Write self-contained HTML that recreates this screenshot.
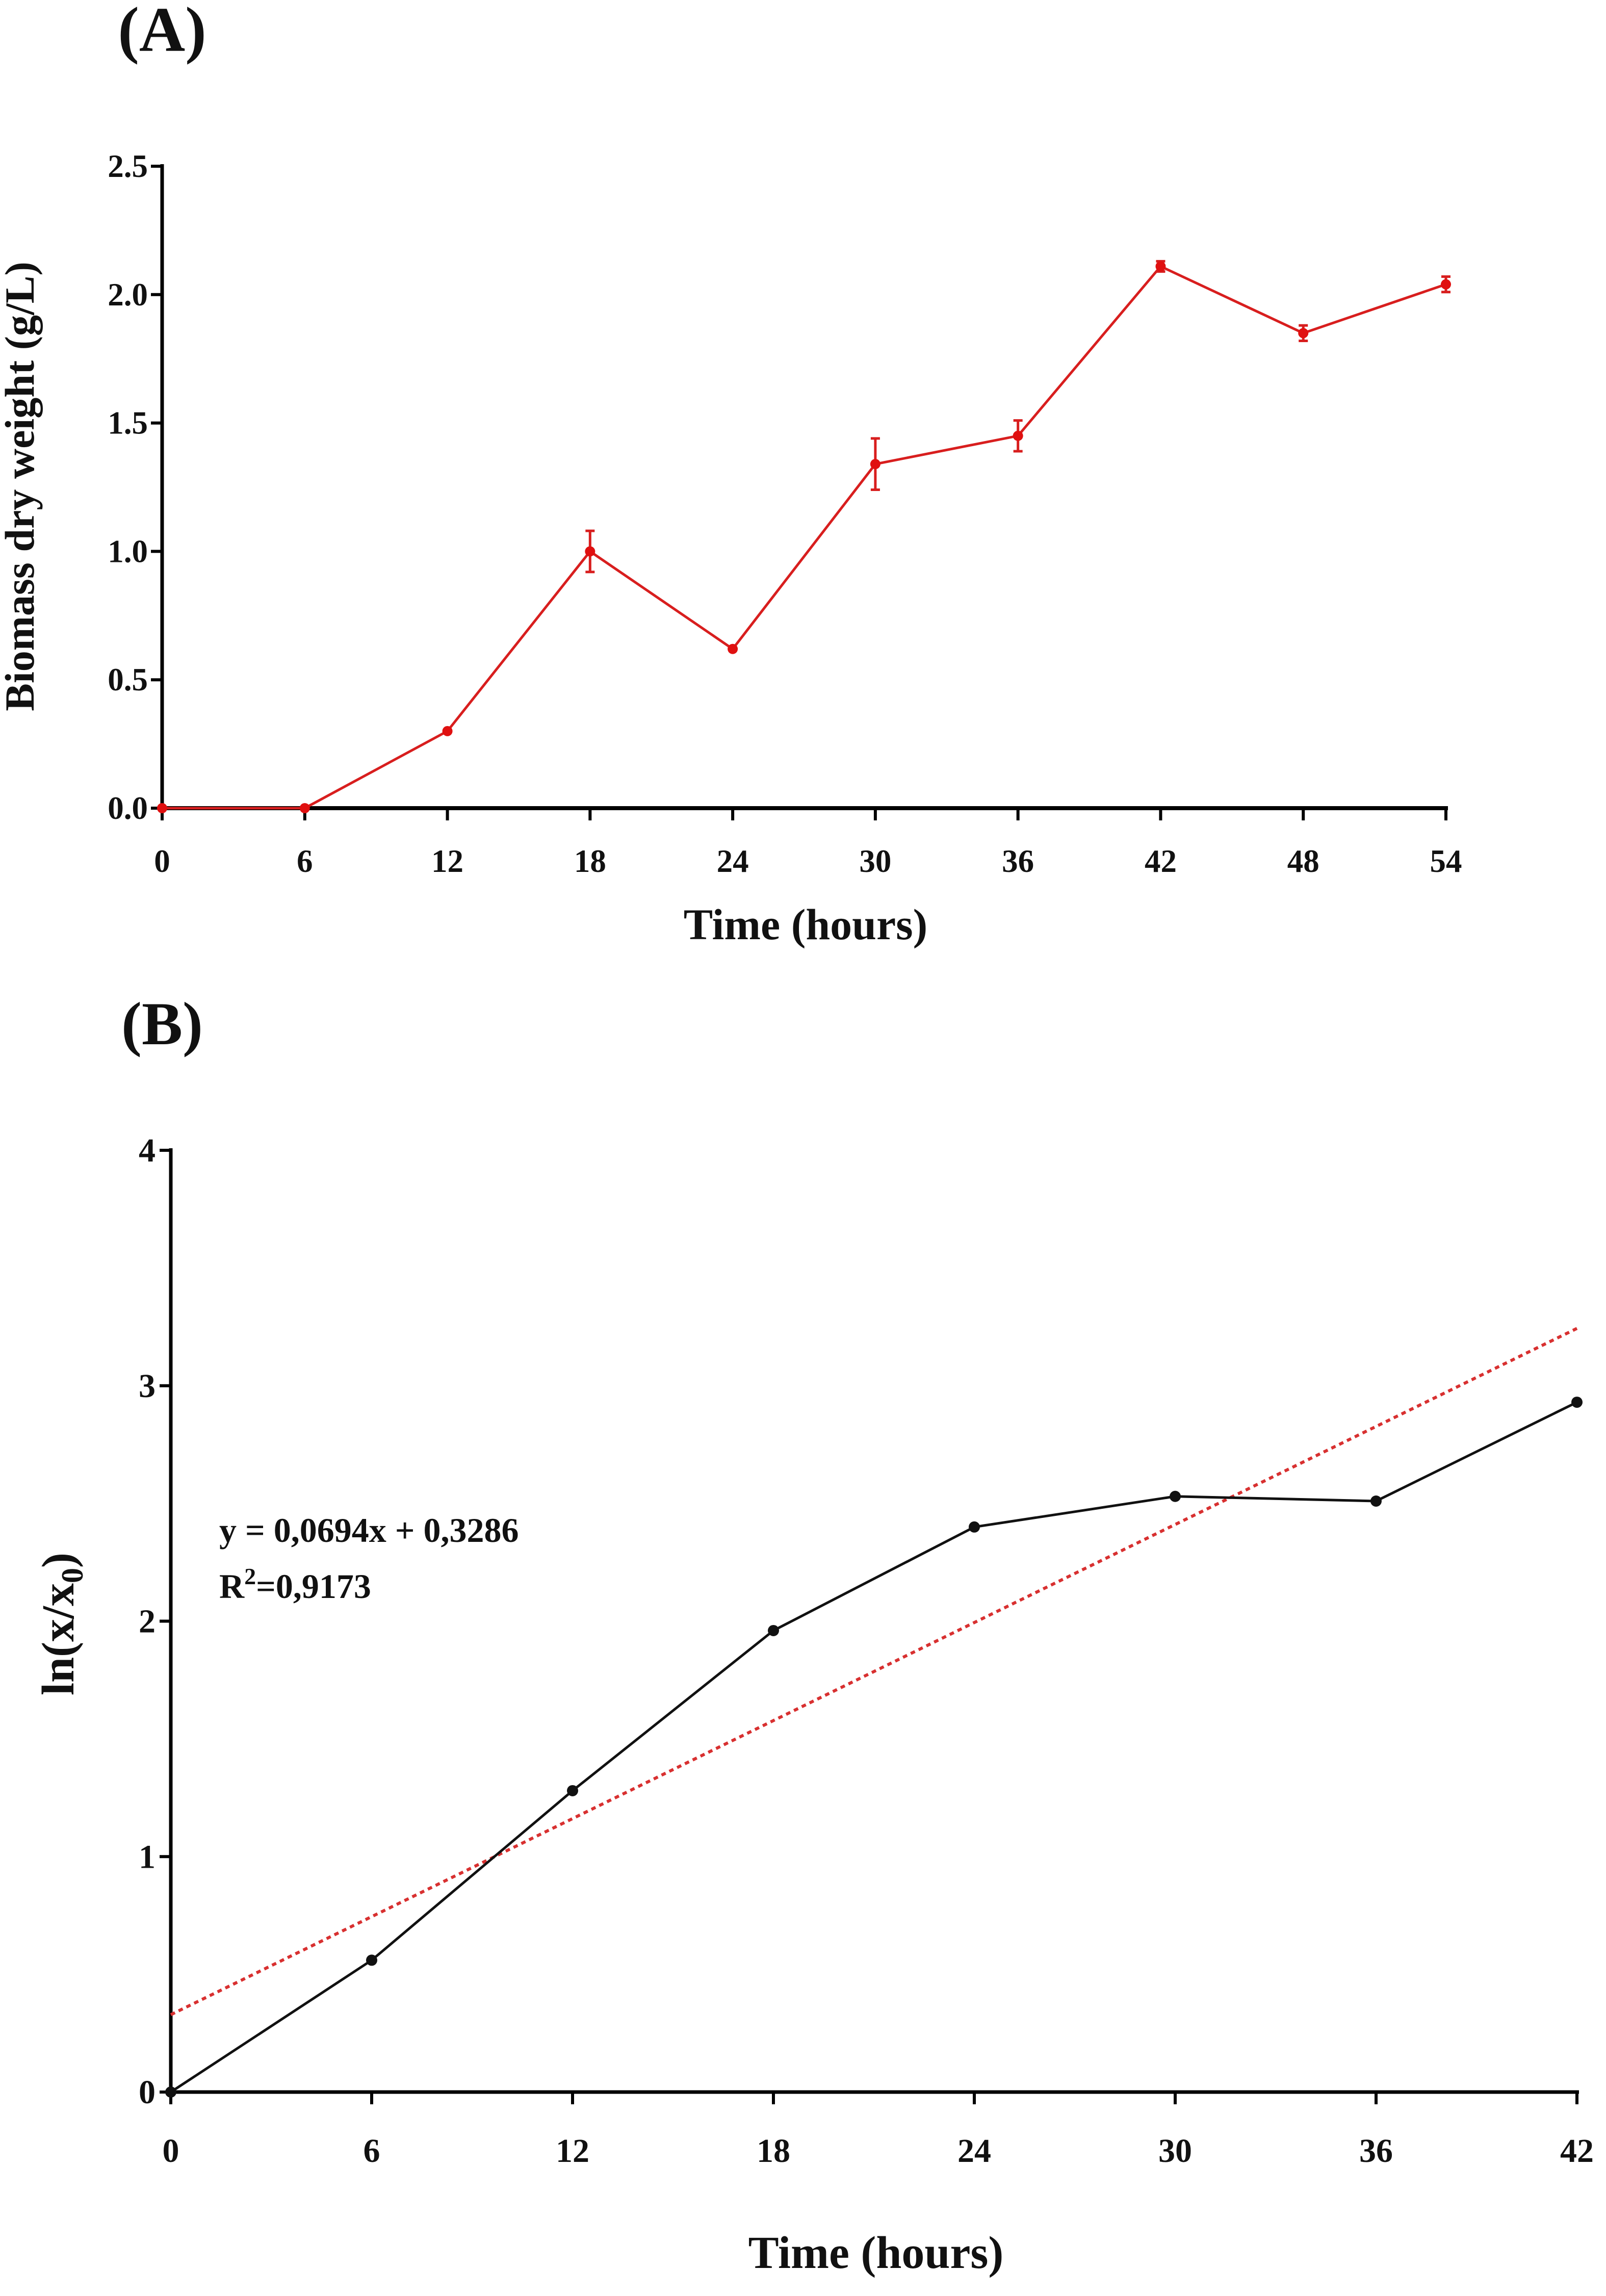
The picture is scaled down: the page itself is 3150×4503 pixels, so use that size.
<!DOCTYPE html>
<html><head><meta charset="utf-8"><style>
html,body{margin:0;padding:0;background:#fff;}
svg text{font-family:"Liberation Serif",serif;font-weight:bold;fill:#111;}
</style></head><body>
<svg id="fig" width="3150" height="4498" viewBox="0 0 3150 4498" xmlns="http://www.w3.org/2000/svg">
<g id="chartA"></g>
<g id="chartB"></g>
</svg>
<script>
// Chart A data
const aTimes = [0, 6, 12, 18, 24, 30, 36, 42, 48, 54];
const aBiomass = [0, 0, 0.30, 1.00, 0.62, 1.34, 1.45, 2.11, 1.85, 2.04];
const aErrors = [0, 0, 0.01, 0.08, 0.01, 0.10, 0.06, 0.02, 0.03, 0.03];
const aYTicks = [0, 0.5, 1.0, 1.5, 2.0, 2.5];
const aXTicks = [0, 6, 12, 18, 24, 30, 36, 42, 48, 54];
// Chart B data
const bTimes = [0, 6, 12, 18, 24, 30, 36, 42];
const bLn = [0, 0.56, 1.28, 1.96, 2.40, 2.53, 2.51, 2.93];
const bYTicks = [0, 1, 2, 3, 4];
const bXTicks = [0, 6, 12, 18, 24, 30, 36, 42];
const fitSlope = 0.0694;
const fitIntercept = 0.3286;

const NS = "http://www.w3.org/2000/svg";
function mk(parent, tag, attrs, text) {
  const e = document.createElementNS(NS, tag);
  for (const k in attrs) e.setAttribute(k, attrs[k]);
  if (text !== undefined) e.textContent = text;
  parent.appendChild(e);
  return e;
}

// ---- Chart A ----
(function(){
  const g = document.getElementById('chartA');
  const x0 = 318, x1 = 2836, y0 = 1585, y1 = 326;
  const sx = v => x0 + (v - 0) / 54 * (x1 - x0);
  const sy = v => y0 - (v - 0) / 2.5 * (y0 - y1);
  let t = mk(g, 'text', {x: 318, y: 100, 'font-size': 125, 'text-anchor': 'middle'}, '(A)');
  
  
  let ax = mk(g, 'line', {x1: x0, y1: y1 - 4, x2: x0, y2: y0 + 4, stroke: '#000', 'stroke-width': 7});
  
  
  ax = mk(g, 'line', {x1: x0 - 4, y1: y0, x2: x1 + 4, y2: y0, stroke: '#000', 'stroke-width': 8});
  
  
  aYTicks.forEach(v => {
    const tk = mk(g, 'line', {x1: x0 - 22, y1: sy(v), x2: x0, y2: sy(v), stroke: '#000', 'stroke-width': 6});
    
    
    const lb = mk(g, 'text', {x: x0 - 28, y: sy(v) + 21, 'font-size': 63, 'text-anchor': 'end'}, v.toFixed(1));
    
    
  });
  aXTicks.forEach(v => {
    const tk = mk(g, 'line', {x1: sx(v), y1: y0, x2: sx(v), y2: y0 + 24, stroke: '#000', 'stroke-width': 6});
    
    
    const lb = mk(g, 'text', {x: sx(v), y: 1710, 'font-size': 63, 'text-anchor': 'middle'}, String(v));
    
    
  });
  t = mk(g, 'text', {x: 1580, y: 1842, 'font-size': 86, 'text-anchor': 'middle'}, 'Time (hours)');
  
  
  t = mk(g, 'text', {x: 0, y: 0, 'font-size': 82, 'text-anchor': 'middle', transform: 'translate(66,954) rotate(-90)'}, 'Biomass dry weight (g/L)');
  
  
  const pts = aTimes.map((v, i) => sx(v) + ',' + sy(aBiomass[i])).join(' ');
  const pl = mk(g, 'polyline', {points: pts, fill: 'none', stroke: '#d81e1e', 'stroke-width': 5});
  
  
  aTimes.forEach((v, i) => {
    const cx = sx(v), cy = sy(aBiomass[i]);
    const hi = sy(aBiomass[i] + aErrors[i]), lo = sy(aBiomass[i] - aErrors[i]);
    if (aErrors[i] > 0.015) {
      const eb = mk(g, 'path', {d: `M${cx},${hi}V${lo}M${cx-9},${hi}H${cx+9}M${cx-9},${lo}H${cx+9}`, stroke: '#d81e1e', 'stroke-width': 5, fill: 'none'});
      
      
    }
    const c = mk(g, 'circle', {cx: cx, cy: cy, r: 10, fill: '#e01010'});
    
    
  });
})();

// ---- Chart B ----
(function(){
  const g = document.getElementById('chartB');
  const x0 = 335, x1 = 3093, y0 = 4103, y1 = 2256;
  const sx = v => x0 + v / 42 * (x1 - x0);
  const sy = v => y0 - v / 4 * (y0 - y1);
  let t = mk(g, 'text', {x: 318, y: 2048, 'font-size': 120, 'text-anchor': 'middle'}, '(B)');
  
  
  let ax = mk(g, 'line', {x1: x0, y1: y1 - 4, x2: x0, y2: y0 + 4, stroke: '#000', 'stroke-width': 7});
  
  
  ax = mk(g, 'line', {x1: x0 - 4, y1: y0, x2: x1 + 4, y2: y0, stroke: '#000', 'stroke-width': 7});
  
  
  bYTicks.forEach(v => {
    const tk = mk(g, 'line', {x1: x0 - 22, y1: sy(v), x2: x0, y2: sy(v), stroke: '#000', 'stroke-width': 6});
    
    
    const lb = mk(g, 'text', {x: x0 - 30, y: sy(v) + 22, 'font-size': 66, 'text-anchor': 'end'}, String(v));
    
    
  });
  bXTicks.forEach(v => {
    const tk = mk(g, 'line', {x1: sx(v), y1: y0, x2: sx(v), y2: y0 + 24, stroke: '#000', 'stroke-width': 6});
    
    
    const lb = mk(g, 'text', {x: sx(v), y: 4240, 'font-size': 66, 'text-anchor': 'middle'}, String(v));
    
    
  });
  t = mk(g, 'text', {x: 1718, y: 4448, 'font-size': 90, 'text-anchor': 'middle'}, 'Time (hours)');
  
  
  t = mk(g, 'text', {x: 0, y: 0, 'font-size': 90, 'text-anchor': 'middle', transform: 'translate(144,3185) rotate(-90)'});
  
  
  t.appendChild(document.createTextNode('ln(x/x'));
  mk(t, 'tspan', {'font-size': 60, dy: 18}, '0');
  mk(t, 'tspan', {dy: -18}, ')');
  const fit = mk(g, 'line', {x1: sx(0), y1: sy(fitIntercept), x2: sx(42), y2: sy(fitIntercept + fitSlope * 42), stroke: '#d83030', 'stroke-width': 6, 'stroke-dasharray': '9,8'});
  
  
  const pts = bTimes.map((v, i) => sx(v) + ',' + sy(bLn[i])).join(' ');
  const pl = mk(g, 'polyline', {points: pts, fill: 'none', stroke: '#111', 'stroke-width': 5});
  
  
  bTimes.forEach((v, i) => {
    const c = mk(g, 'circle', {cx: sx(v), cy: sy(bLn[i]), r: 11, fill: '#111'});
    
    
  });
  t = mk(g, 'text', {x: 430, y: 3024, 'font-size': 68}, 'y = 0,0694x + 0,3286');
  
  
  t = mk(g, 'text', {x: 430, y: 3134, 'font-size': 68});
  
  
  t.appendChild(document.createTextNode('R'));
  mk(t, 'tspan', {'font-size': 46, dy: -27}, '2');
  mk(t, 'tspan', {dy: 27}, '=0,9173');
})();
</script>
</body></html>
